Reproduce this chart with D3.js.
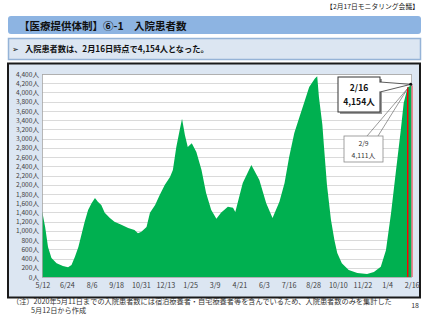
<!DOCTYPE html>
<html><head><meta charset="utf-8">
<script src="https://cdn.jsdelivr.net/npm/d3@7"></script>
<style>
html,body{margin:0;padding:0;background:#fff;}
svg{display:block;font-family:"Noto Sans CJK JP","Noto Sans",sans-serif;}
</style></head>
<body>
<svg id="c" width="427" height="320"></svg>
<script>
// ---- data ----
const dates = ["2020-05-12","2020-05-17","2020-05-22","2020-05-28","2020-06-06","2020-06-17","2020-06-26","2020-07-02","2020-07-08","2020-07-14","2020-07-20","2020-07-25","2020-07-31","2020-08-06","2020-08-12","2020-08-17","2020-08-23","2020-08-29","2020-09-07","2020-09-15","2020-09-27","2020-10-09","2020-10-20","2020-10-26","2020-11-01","2020-11-10","2020-11-16","2020-11-25","2020-12-03","2020-12-12","2020-12-21","2020-12-26","2021-01-01","2021-01-07","2021-01-11","2021-01-16","2021-01-21","2021-01-28","2021-02-05","2021-02-14","2021-02-22","2021-03-03","2021-03-12","2021-03-20","2021-04-01","2021-04-10","2021-04-14","2021-04-27","2021-05-12","2021-05-26","2021-06-07","2021-06-18","2021-06-30","2021-07-09","2021-07-17","2021-07-26","2021-08-04","2021-08-12","2021-08-21","2021-08-31","2021-09-04","2021-09-07","2021-09-13","2021-09-16","2021-09-21","2021-09-28","2021-10-04","2021-10-09","2021-10-17","2021-10-29","2021-11-13","2021-11-30","2021-12-12","2021-12-24","2022-01-02","2022-01-11","2022-01-19","2022-01-28","2022-02-02","2022-02-09","2022-02-16"];
const inpatients = [1410,1085,650,410,300,240,210,260,440,650,950,1200,1450,1600,1710,1630,1560,1390,1280,1200,1130,1060,1020,950,980,1085,1390,1560,1780,2000,2170,2320,2820,3190,3430,3080,2820,2900,2710,2320,1820,1450,1260,1390,1520,1500,1410,2040,2430,2100,1600,1280,1630,2040,2600,3120,3470,3770,4120,4300,4351,3900,3300,2800,2000,1240,800,520,300,150,85,65,110,220,580,1390,2250,3190,3770,4111,4154];
const xTickLabels = ["5/12","6/24","8/6","9/18","10/31","12/13","1/25","3/9","4/21","6/3","7/16","8/28","10/10","11/22","1/4","2/16"];
const yTicks = [0,200,400,600,800,1000,1200,1400,1600,1800,2000,2200,2400,2600,2800,3000,3200,3400,3600,3800,4000,4200,4400];
const highlightDates = ["2022-02-09","2022-02-16"];
const highlightValues = [4111,4154];
const titleText = "【医療提供体制】⑥-1　入院患者数";
const subText = "入院患者数は、2月16日時点で4,154人となった。";
const headerText = "【2月17日モニタリング会議】";
const noteLines = ["（注）2020年5月11日までの入院患者数には宿泊療養者・自宅療養者等を含んでいるため、入院患者数のみを集計した","5月12日から作成"];
const pageNo = "18";

// ---- layout ----
const svg = d3.select("#c");
const parse = d3.utcParse("%Y-%m-%d");
const md = d3.utcFormat("%-m/%-d");
const DAY = 86400000;
const start = parse(dates[0]), end = parse(dates[dates.length-1]);
const plot = {l:42, r:412, t:74, b:277};
const x = d3.scaleUtc().domain([new Date(+start - DAY/2), new Date(+end + DAY/2)]).range([plot.l, plot.r]);
const y = d3.scaleLinear().domain([0,4400]).range([plot.b, plot.t]);
const green = "#00B050";

// header
svg.append("text").attr("x",419).attr("y",9).attr("text-anchor","end")
  .attr("font-size",6.8).attr("fill","#222").text(headerText);

// title bar
svg.append("rect").attr("x",8).attr("y",16).attr("width",413).attr("height",18).attr("rx",3)
  .attr("fill","#8DB4E2");
svg.append("text").attr("x",19).attr("y",29.5).attr("font-size",10.5).attr("font-weight","bold")
  .attr("fill","#111").text(titleText);

// subtitle box
svg.append("rect").attr("x",8.5).attr("y",38.5).attr("width",412).attr("height",21)
  .attr("fill","#DCE6F2").attr("stroke","#95B3D7").attr("stroke-width",1.5);
svg.append("text").attr("x",12).attr("y",52).attr("font-size",8).attr("fill","#111").text("➢");
svg.append("text").attr("x",25).attr("y",52).attr("font-size",8.2).attr("font-weight","bold")
  .attr("fill","#111").text(subText);

// chart box
svg.append("rect").attr("x",8).attr("y",63.5).attr("width",412).attr("height",234)
  .attr("fill","#DCE6F2").attr("stroke","#1a1a1a").attr("stroke-width",2);

// plot area
svg.append("rect").attr("x",plot.l).attr("y",plot.t).attr("width",plot.r-plot.l).attr("height",plot.b-plot.t)
  .attr("fill","#fff");

// gridlines
svg.append("g").selectAll("line").data(yTicks.filter(d=>d>0)).join("line")
  .attr("x1",plot.l).attr("x2",plot.r).attr("y1",d=>Math.round(y(d))+0.5).attr("y2",d=>Math.round(y(d))+0.5)
  .attr("stroke","#DADADA").attr("stroke-width",1);

// area (daily bars rendered as filled profile)
const pts = dates.map((d,i)=>({date:parse(d), v:inpatients[i]}));
const area = d3.area()
  .x(d=>x(d.date)).y0(y(0)).y1(d=>y(d.v)).curve(d3.curveLinear);
const full = [{date:new Date(+start - DAY/2), v:inpatients[0]}, ...pts, {date:new Date(+end + DAY/2), v:inpatients[inpatients.length-1]}];
svg.append("path").datum(full).attr("d",area).attr("fill",green);

// highlight bars (red)
svg.append("g").selectAll("rect").data(highlightDates.map((d,i)=>({date:parse(d),v:highlightValues[i]}))).join("rect")
  .attr("x",d=>x(d.date)-0.7).attr("width",1.4)
  .attr("y",d=>y(d.v)).attr("height",d=>y(0)-y(d.v)).attr("fill","#FF0000");

// plot border
svg.append("rect").attr("x",plot.l+0.5).attr("y",plot.t+0.5).attr("width",plot.r-plot.l-1).attr("height",plot.b-plot.t)
  .attr("fill","none").attr("stroke","#A6A6A6").attr("stroke-width",0.8);

// y axis labels
const yAxis = d3.axisLeft(y).tickValues(yTicks).tickSize(0).tickPadding(3)
  .tickFormat(d=>d3.format(",")(d)+"人");
const ya = svg.append("g").attr("transform",`translate(${plot.l},0)`).call(yAxis);
ya.select(".domain").remove();
ya.selectAll("text").attr("font-size",6.6).attr("fill","#404040")
  .attr("font-family","'Noto Sans CJK JP',sans-serif");

// x axis labels: every 43 days from start
const xTickDates = xTickLabels.map((_,i)=>new Date(+start + i*43*DAY));
const xAxis = d3.axisBottom(x).tickValues(xTickDates).tickSize(0).tickPadding(6)
  .tickFormat((d,i)=>xTickLabels[i]);
const xa = svg.append("g").attr("transform",`translate(0,${plot.b})`).call(xAxis);
xa.select(".domain").remove();
xa.selectAll("text").attr("font-size",7.2).attr("fill","#404040")
  .attr("font-family","'Noto Sans CJK JP',sans-serif");

// callouts
const p16 = {x:x(parse(highlightDates[1])), y:y(highlightValues[1])};
const p9 = {x:x(parse(highlightDates[0])), y:y(highlightValues[0])};
// 2/16 callout with shadow
svg.append("rect").attr("x",340).attr("y",79).attr("width",42).attr("height",35).attr("fill","#9a9a9a");
svg.append("path").attr("d",`M380,82 L${p16.x-1},${p16.y-1} L380,92 Z`).attr("fill","#fff").attr("stroke","#333").attr("stroke-width",0.8);
svg.append("rect").attr("x",338).attr("y",77).attr("width",42).attr("height",35)
  .attr("fill","#fff").attr("stroke","#333").attr("stroke-width",1);
svg.append("rect").attr("x",379).attr("y",82.6).attr("width",2).attr("height",8.8).attr("fill","#fff");
svg.append("circle").attr("cx",p16.x-1).attr("cy",p16.y-1).attr("r",1.5).attr("fill","#111");
svg.append("text").attr("x",359).attr("y",91).attr("text-anchor","middle").attr("font-size",8.5)
  .attr("font-weight","bold").attr("fill","#111").text(md(parse(highlightDates[1])));
svg.append("text").attr("x",359).attr("y",105).attr("text-anchor","middle").attr("font-size",8.5)
  .attr("font-weight","bold").attr("fill","#111").text(d3.format(",")(highlightValues[1])+"人");

// 2/9 callout
svg.append("path").attr("d",`M367,136 L${p9.x},${p9.y+1} L378,136`).attr("fill","none").attr("stroke","#555").attr("stroke-width",0.6);
svg.append("rect").attr("x",344).attr("y",136).attr("width",39).attr("height",26)
  .attr("fill","#fff").attr("stroke","#8a8a8a").attr("stroke-width",0.8);
svg.append("text").attr("x",363.5).attr("y",146).attr("text-anchor","middle").attr("font-size",6.8)
  .attr("fill","#333").text(md(parse(highlightDates[0])));
svg.append("text").attr("x",363.5).attr("y",157.5).attr("text-anchor","middle").attr("font-size",6.8)
  .attr("fill","#333").text(d3.format(",")(highlightValues[0])+"人");

// footnote
svg.append("text").attr("x",12).attr("y",304).attr("font-size",7.2).attr("fill","#333").text(noteLines[0]);
svg.append("text").attr("x",31).attr("y",313).attr("font-size",7.2).attr("fill","#333").text(noteLines[1]);
svg.append("text").attr("x",419).attr("y",308).attr("text-anchor","end").attr("font-size",7).attr("fill","#333").text(pageNo);
</script>
</body></html>
